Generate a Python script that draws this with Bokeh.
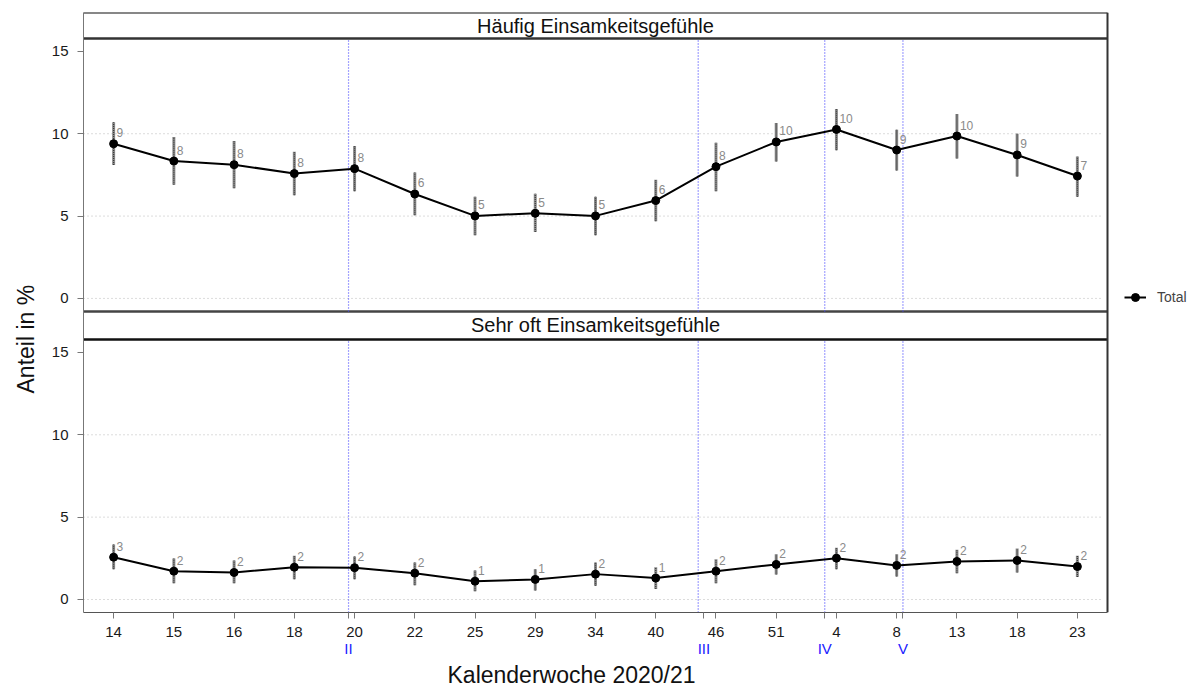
from bokeh.plotting import figure
from bokeh.models import (ColumnDataSource, FixedTicker, LinearAxis, Legend, LegendItem,
                          Title, Range1d, CustomJSTickFormatter)
from bokeh.embed import file_html
from bokeh.resources import INLINE
from bokeh.core.properties import value

# ---------------- data ----------------
weeks = ["14", "15", "16", "18", "20", "22", "25", "29", "34", "40", "46", "51", "4", "8", "13", "18", "23"]
haeufig = [9.39, 8.34, 8.12, 7.58, 7.88, 6.34, 5.01, 5.17, 5.01, 5.94, 8.00, 9.50, 10.26, 9.01, 9.86, 8.71, 7.43]
haeufig_lo = [8.10, 6.90, 6.69, 6.26, 6.50, 5.05, 3.84, 4.04, 3.84, 4.69, 6.50, 8.32, 9.00, 7.76, 8.50, 7.41, 6.18]
haeufig_hi = [10.70, 9.80, 9.56, 8.90, 9.25, 7.64, 6.18, 6.36, 6.18, 7.21, 9.45, 10.65, 11.50, 10.24, 11.19, 10.00, 8.62]
haeufig_labels = ["9", "8", "8", "8", "8", "6", "5", "5", "5", "6", "8", "10", "10", "9", "10", "9", "7"]

sehr = [2.57, 1.72, 1.64, 1.96, 1.93, 1.60, 1.11, 1.22, 1.54, 1.30, 1.72, 2.13, 2.51, 2.07, 2.31, 2.37, 2.00]
sehr_lo = [1.84, 0.99, 0.99, 1.23, 1.23, 0.87, 0.50, 0.55, 0.83, 0.63, 0.99, 1.52, 1.84, 1.40, 1.60, 1.64, 1.36]
sehr_hi = [3.34, 2.49, 2.37, 2.66, 2.61, 2.25, 1.76, 1.84, 2.25, 1.96, 2.45, 2.74, 3.14, 2.74, 3.02, 3.10, 2.66]
sehr_labels = ["3", "2", "2", "2", "2", "2", "1", "1", "2", "1", "2", "2", "2", "2", "2", "2", "2"]

panel_titles = ["Häufig Einsamkeitsgefühle", "Sehr oft Einsamkeitsgefühle"]
phase_labels = ["II", "III", "IV", "V"]
phase_line_pos = [4.9, 10.705, 12.806, 14.104]
phase_label_pos = [4.9, 10.8, 12.806, 14.104]
y_ticks = [0, 5, 10, 15]
y_grid = [0, 5, 10]

# ---------------- facet layout (stacked panels on one shared y scale) ----------------
Y0 = -0.79            # bottom of lower panel
PANEL_TOP = 15.79     # top of lower panel (start of its strip)
OFF = 18.28           # shift of upper panel
UP_BOTTOM = 17.49     # bottom of upper panel
UP_TOP = 34.06        # top of upper panel
Y1 = 35.64            # top of upper strip

FONT = "Liberation Sans"
xs = list(range(1, len(weeks) + 1))
XL, XR = 0.5, len(weeks) + 0.5
PANEL_W, FRAME_W = 1024, 1113          # panel width and frame width (legend lives in the extra room)
X_END = XL + (XR - XL) * FRAME_W / PANEL_W

p = figure(width=1198, height=689, x_range=Range1d(XL, X_END),
           y_range=Range1d(Y0, Y1), output_backend="svg", toolbar_location=None,
           min_border_left=83, min_border_right=2, min_border_top=12, min_border_bottom=77)
p.outline_line_color = None
p.xgrid.visible = False
p.ygrid.visible = False
p.background_fill_color = "white"

# dotted reference lines at the y ticks
gy = y_grid + [t + OFF for t in y_grid]
p.segment(x0=[XL] * len(gy), x1=[XR - 0.08] * len(gy), y0=gy, y1=gy,
          line_color="#b8b8b8", line_dash="1 3", line_width=1)

# strips
p.quad(left=[XL, XL], right=[XR, XR], bottom=[UP_TOP, PANEL_TOP],
       top=[Y1, UP_BOTTOM], fill_color="white", line_color=None)
p.segment(x0=[XL] * 3, x1=[XR] * 3, y0=[UP_TOP, UP_BOTTOM, PANEL_TOP],
          y1=[UP_TOP, UP_BOTTOM, PANEL_TOP], line_color=["#333333", "#444444", "#111111"],
          line_width=2.5)
# panel border (top and right)
p.segment(x0=[XL, XR], x1=[XR, XR], y0=[Y1, Y0], y1=[Y1, Y1],
          line_color=["#111111", "#333333"], line_width=2)
p.text(x=[(len(weeks) + 1) / 2] * 2, y=[(UP_TOP + Y1) / 2, (PANEL_TOP + UP_BOTTOM) / 2],
       text=panel_titles, text_align="center", text_baseline="middle",
       text_font=value(FONT), text_font_size="20px", text_color="#111111")

# phase lines
p.segment(x0=phase_line_pos * 2, x1=phase_line_pos * 2,
          y0=[Y0] * 4 + [UP_BOTTOM] * 4, y1=[PANEL_TOP] * 4 + [UP_TOP] * 4,
          line_color="#4848ff", line_dash="1 2", line_width=1.2)

renderers = []
for vals, lo, hi, labs, off in [(haeufig, haeufig_lo, haeufig_hi, haeufig_labels, OFF),
                                (sehr, sehr_lo, sehr_hi, sehr_labels, 0.0)]:
    src = ColumnDataSource(dict(x=xs, y=[v + off for v in vals], lo=[v + off for v in lo],
                                hi=[v + off for v in hi], lab=labs))
    p.segment(x0="x", x1="x", y0="lo", y1="hi", source=src, line_color="#8c8c8c", line_width=3)
    p.segment(x0="x", x1="x", y0="lo", y1="hi", source=src, line_color="#3a3a3a",
              line_width=1.2, line_dash="1 1")
    lr = p.line("x", "y", source=src, line_color="black", line_width=2)
    cr = p.scatter("x", "y", source=src, size=8, fill_color="black", line_color="black")
    p.text(x="x", y="y", text="lab", source=src, x_offset=3, y_offset=-11,
           text_align="left", text_baseline="middle", text_font=value(FONT),
           text_font_size="12px", text_color="#8a8a8a")
    renderers.append((lr, cr))

# y axis
p.yaxis.ticker = FixedTicker(ticks=y_ticks + [t + OFF for t in y_ticks])
p.yaxis.formatter = CustomJSTickFormatter(args=dict(off=OFF),
    code="const v = tick > off - 3 ? tick - off : tick; return Math.round(v).toString();")
p.yaxis.major_label_text_font = FONT
p.yaxis.major_label_text_font_size = "15px"
p.yaxis.major_label_text_color = "#1a1a1a"
p.yaxis.major_tick_out = 6
p.yaxis.major_tick_in = 0
p.yaxis.minor_tick_line_color = None
p.yaxis.major_tick_line_color = "#777777"
p.yaxis.axis_line_color = "#777777"
p.yaxis.major_label_standoff = 9

# x axis (weeks)
p.xaxis.ticker = FixedTicker(ticks=xs + phase_label_pos)
p.xaxis.formatter = CustomJSTickFormatter(args=dict(labels=weeks),
    code="const i = Math.round(tick); if (Math.abs(tick - i) > 1e-6) return ''; return labels[i-1];")
p.xaxis.bounds = (XL, XR)
p.xaxis.major_label_text_font = FONT
p.xaxis.major_label_text_font_size = "15px"
p.xaxis.major_label_text_color = "#1a1a1a"
p.xaxis.major_tick_out = 6
p.xaxis.major_tick_in = 0
p.xaxis.minor_tick_line_color = None
p.xaxis.major_tick_line_color = "#777777"
p.xaxis.axis_line_color = "#555555"
p.xaxis.major_label_standoff = 8

# roman phase axis
rax = LinearAxis(ticker=FixedTicker(ticks=phase_label_pos), bounds=(XL, XR),
                 formatter=CustomJSTickFormatter(args=dict(pos=phase_label_pos, labs=phase_labels),
                     code="const k = pos.findIndex(q => Math.abs(q - tick) < 1e-6); return k >= 0 ? labs[k] : '';"),
                 axis_line_color=None, major_tick_line_color=None, minor_tick_line_color=None,
                 major_tick_out=0, major_tick_in=0, major_label_standoff=0,
                 major_label_text_color="#2020ff", major_label_text_font=FONT,
                 major_label_text_font_size="15px")
p.add_layout(rax, "below")

# axis titles
p.add_layout(Title(text="Kalenderwoche 2020/21", align="left", offset=364, standoff=0,
                   vertical_align="bottom", text_font=FONT, text_font_size="23px",
                   text_font_style="normal", text_color="#111111"), "below")
p.add_layout(Title(text="Anteil in %", align="left", offset=219, standoff=20,
                   vertical_align="bottom", text_font=FONT, text_font_size="23px",
                   text_font_style="normal", text_color="#111111"), "left")

legend = Legend(items=[LegendItem(label="Total", renderers=list(renderers[0]))],
                location=(1041, 305), border_line_color=None, background_fill_alpha=0,
                label_text_font=FONT, label_text_font_size="14px", glyph_width=22,
                label_standoff=11, padding=5, margin=0)
p.add_layout(legend)

open("out.html", "w").write(file_html(p, INLINE))
